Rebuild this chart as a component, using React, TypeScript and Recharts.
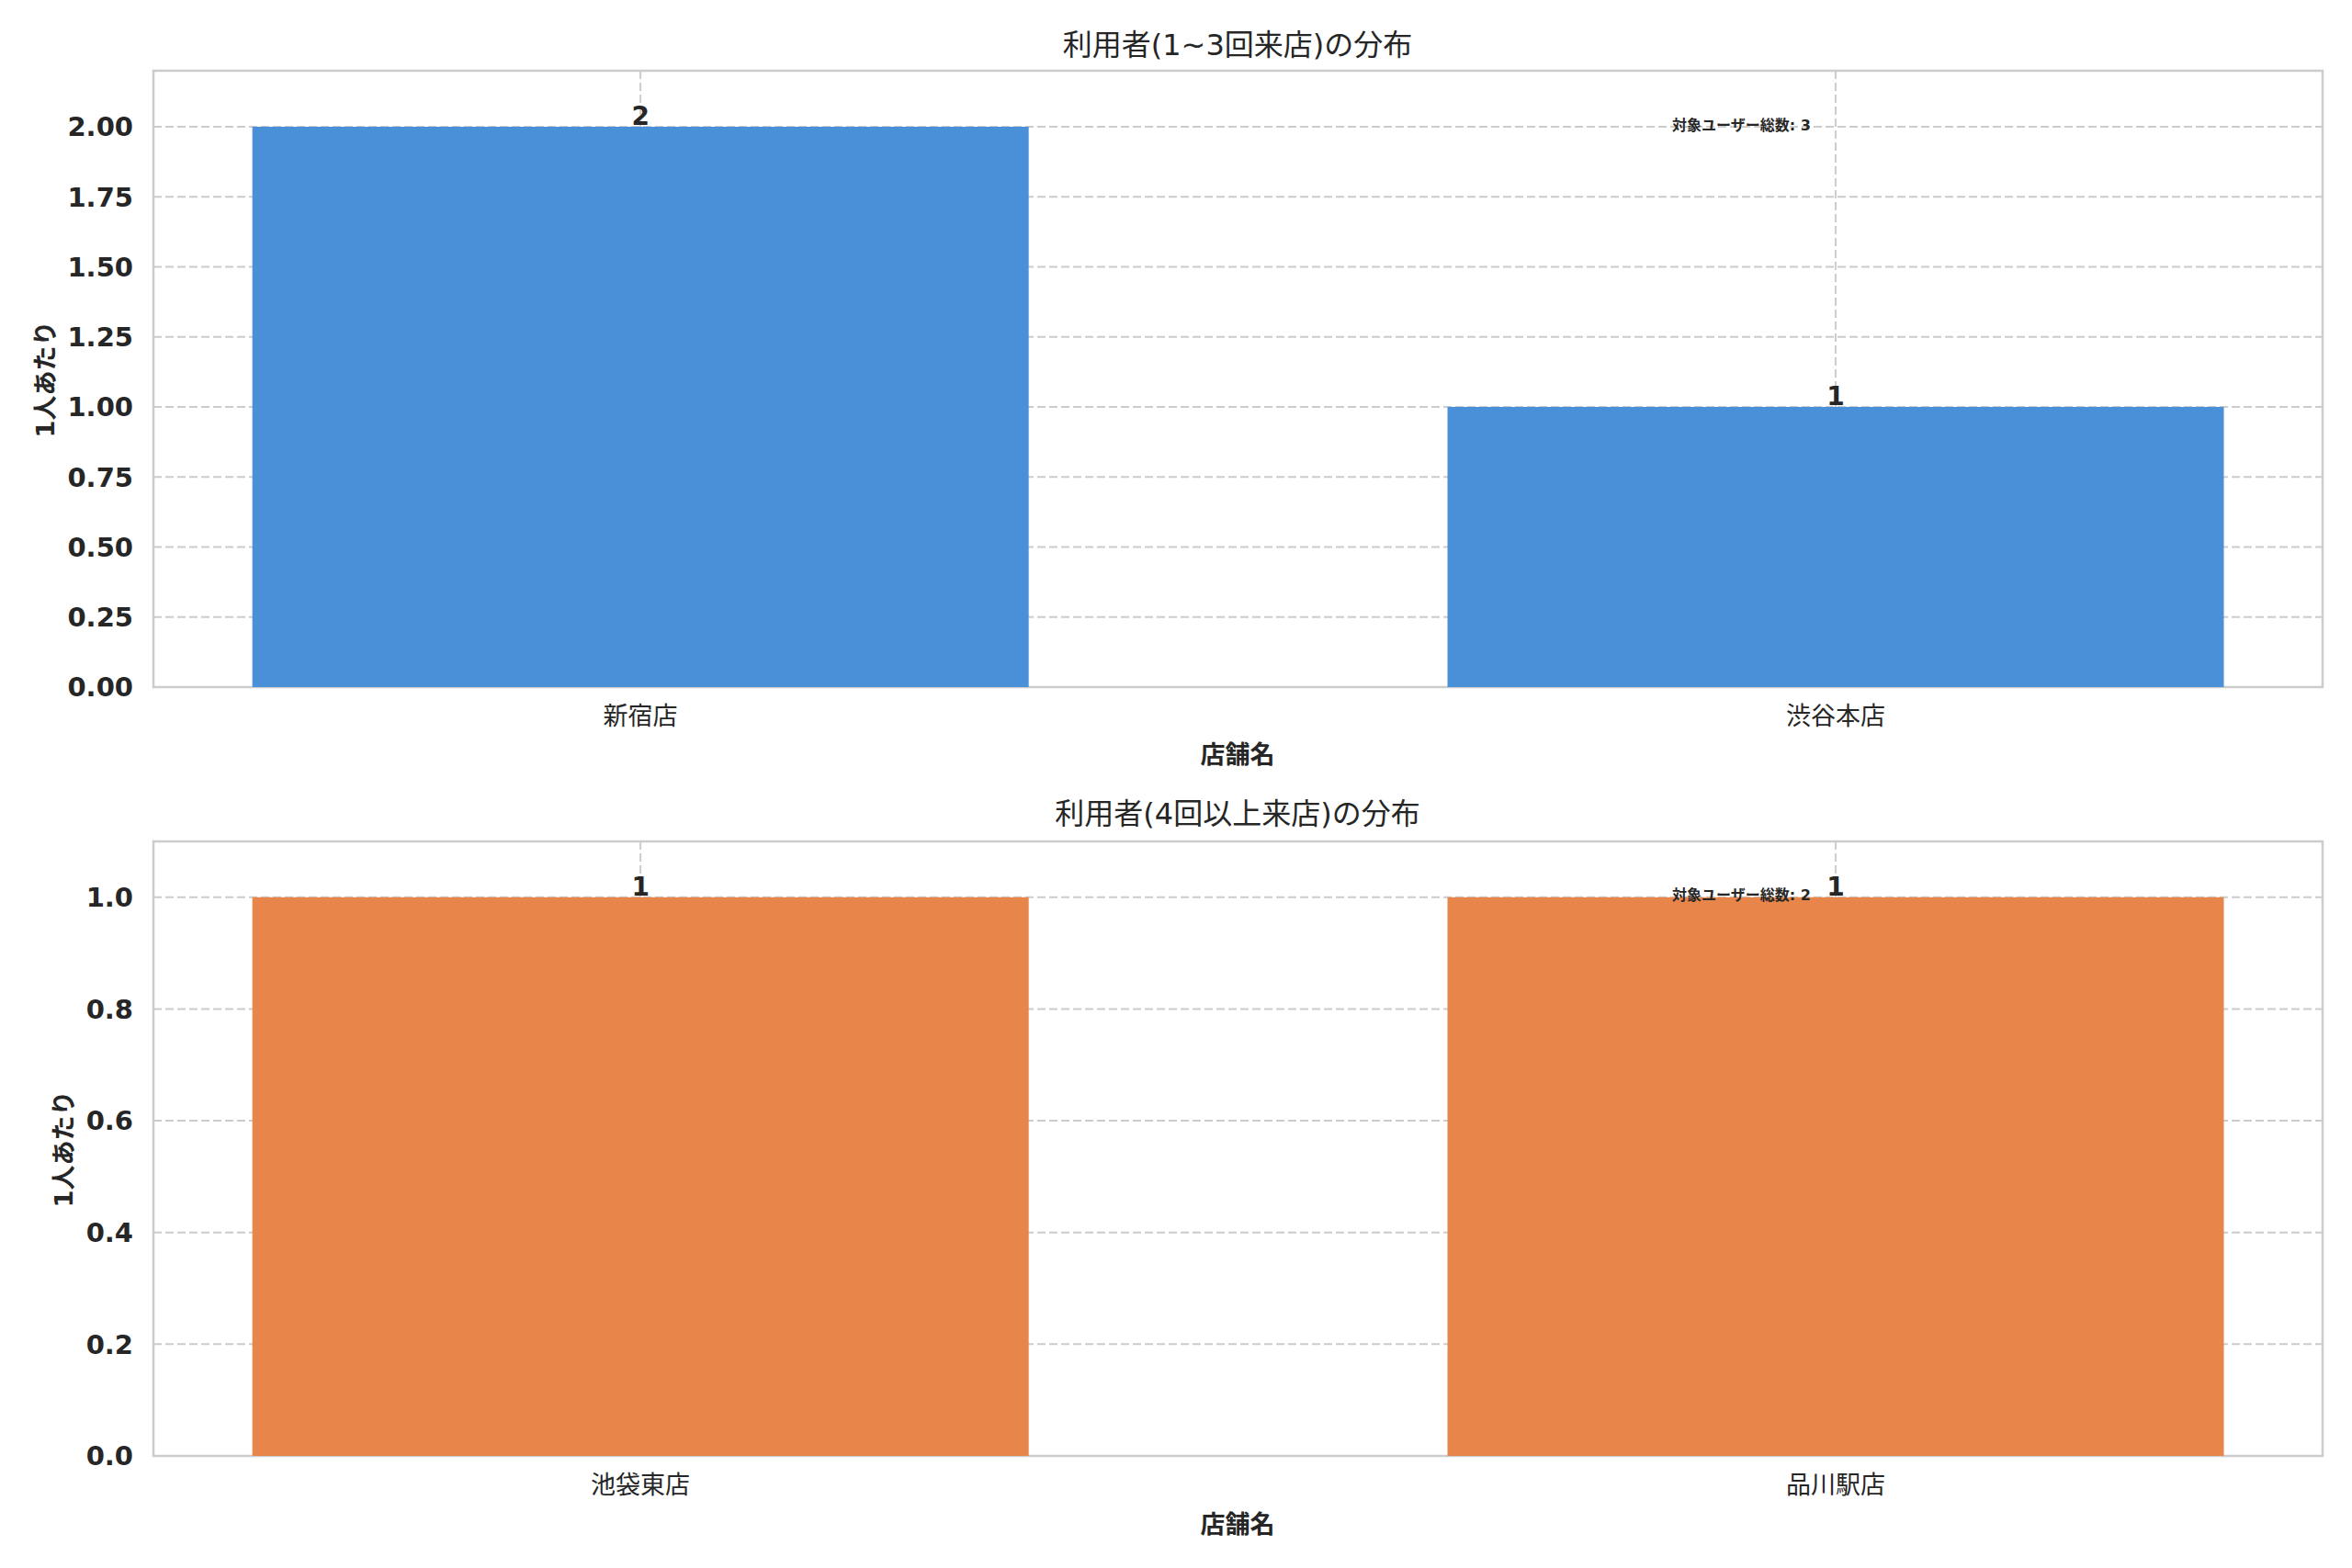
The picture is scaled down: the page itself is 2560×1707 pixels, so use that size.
import { BarChart, Bar, XAxis, YAxis, CartesianGrid, ReferenceArea, LabelList } from 'recharts'

const FONT = "'DejaVu Sans', 'Noto Sans CJK JP', sans-serif"
const INK = '#262626'

const topTitle = '利用者(1~3回来店)の分布'
const bottomTitle = '利用者(4回以上来店)の分布'
const xLabel = '店舗名'
const yLabel = '1人あたり'
const noteLabel = '対象ユーザー総数'

const topCategories = ['新宿店', '渋谷本店']
const topValues = [2, 1]
const topTicks = [0, 0.25, 0.5, 0.75, 1.0, 1.25, 1.5, 1.75, 2.0]

const bottomCategories = ['池袋東店', '品川駅店']
const bottomValues = [1, 1]
const bottomTicks = [0, 0.2, 0.4, 0.6, 0.8, 1.0]

const X_DOMAIN: [number, number] = [-0.4075, 1.4075]

interface PanelProps {
    top: number
    height: number
    plotTop: number
    plotBottom: number
    categories: string[]
    values: number[]
    ticks: number[]
    yMax: number
    digits: number
    color: string
}

function Panel(p: PanelProps) {
    const data = p.categories.map((name, i) => ({ x: i, name, value: p.values[i] }))
    return (
        <div style={{ position: 'absolute', left: 0, top: p.top }}>
            <BarChart
                width={2560}
                height={p.height}
                data={data}
                margin={{ top: p.plotTop, right: 32, left: 0, bottom: 0 }}
            >
                <CartesianGrid strokeDasharray="9 4" stroke="#cccccc" strokeWidth={2} />
                <XAxis
                    type="number"
                    dataKey="x"
                    domain={X_DOMAIN}
                    allowDataOverflow
                    ticks={[0, 1]}
                    interval={0}
                    tickFormatter={(v: number) => p.categories[v]}
                    height={p.height - p.plotBottom}
                    axisLine={false}
                    tickLine={false}
                    tickSize={0}
                    tickMargin={22}
                    tick={{ fill: INK, fontSize: 27, fontFamily: FONT }}
                />
                <YAxis
                    domain={[0, p.yMax]}
                    allowDataOverflow
                    ticks={p.ticks}
                    interval={0}
                    tickFormatter={(v: number) => v.toFixed(p.digits)}
                    width={167}
                    axisLine={false}
                    tickLine={false}
                    tickSize={0}
                    tickMargin={22}
                    tick={{ fill: INK, fontSize: 29, fontWeight: 'bold', fontFamily: FONT }}
                />
                <Bar dataKey="value" fill={p.color} barSize={845} isAnimationActive={false}>
                    <LabelList
                        dataKey="value"
                        position="top"
                        offset={2}
                        fill={INK}
                        fontSize={28}
                        fontWeight="bold"
                        fontFamily={FONT}
                    />
                </Bar>
                <ReferenceArea
                    x1={X_DOMAIN[0]}
                    x2={X_DOMAIN[1]}
                    y1={0}
                    y2={p.yMax}
                    fill="none"
                    stroke="#cccccc"
                    strokeWidth={2.5}
                    ifOverflow="visible"
                />
            </BarChart>
        </div>
    )
}

function Text(props: { x: number; y: number; text: string; size: number; bold?: boolean; rotate?: boolean; left?: boolean }) {
    const shift = props.left ? 'translate(0,-50%)' : 'translate(-50%,-50%)'
    return (
        <div
            style={{
                position: 'absolute',
                left: props.x,
                top: props.y,
                transform: shift + (props.rotate ? ' rotate(-90deg)' : ''),
                whiteSpace: 'nowrap',
                fontSize: props.size,
                fontWeight: props.bold ? 'bold' : 'normal',
                fontFamily: FONT,
                color: INK,
                lineHeight: 1,
            }}
        >
            {props.text}
        </div>
    )
}

export default function App() {
    const topTotal = topValues.reduce((a, b) => a + b, 0)
    const bottomTotal = bottomValues.reduce((a, b) => a + b, 0)
    return (
        <div style={{ position: 'absolute', left: 0, top: 0, width: 2560, height: 1707, background: '#ffffff' }}>
            <Panel
                top={0}
                height={850}
                plotTop={77}
                plotBottom={748}
                categories={topCategories}
                values={topValues}
                ticks={topTicks}
                yMax={2.2}
                digits={2}
                color="#4a90d9"
            />
            <Panel
                top={850}
                height={857}
                plotTop={66}
                plotBottom={735}
                categories={bottomCategories}
                values={bottomValues}
                ticks={bottomTicks}
                yMax={1.1}
                digits={1}
                color="#e8854a"
            />

            <Text x={1347} y={49} text={topTitle} size={32} />
            <Text x={1347} y={821} text={xLabel} size={27} bold />
            <Text x={49} y={413} text={yLabel} size={27} bold rotate />
            <Text x={1820} y={137} text={`${noteLabel}: ${topTotal}`} size={16} bold left />

            <Text x={1347} y={886} text={bottomTitle} size={32} />
            <Text x={1347} y={1659} text={xLabel} size={27} bold />
            <Text x={69} y={1251} text={yLabel} size={27} bold rotate />
            <Text x={1820} y={975} text={`${noteLabel}: ${bottomTotal}`} size={16} bold left />
        </div>
    )
}
